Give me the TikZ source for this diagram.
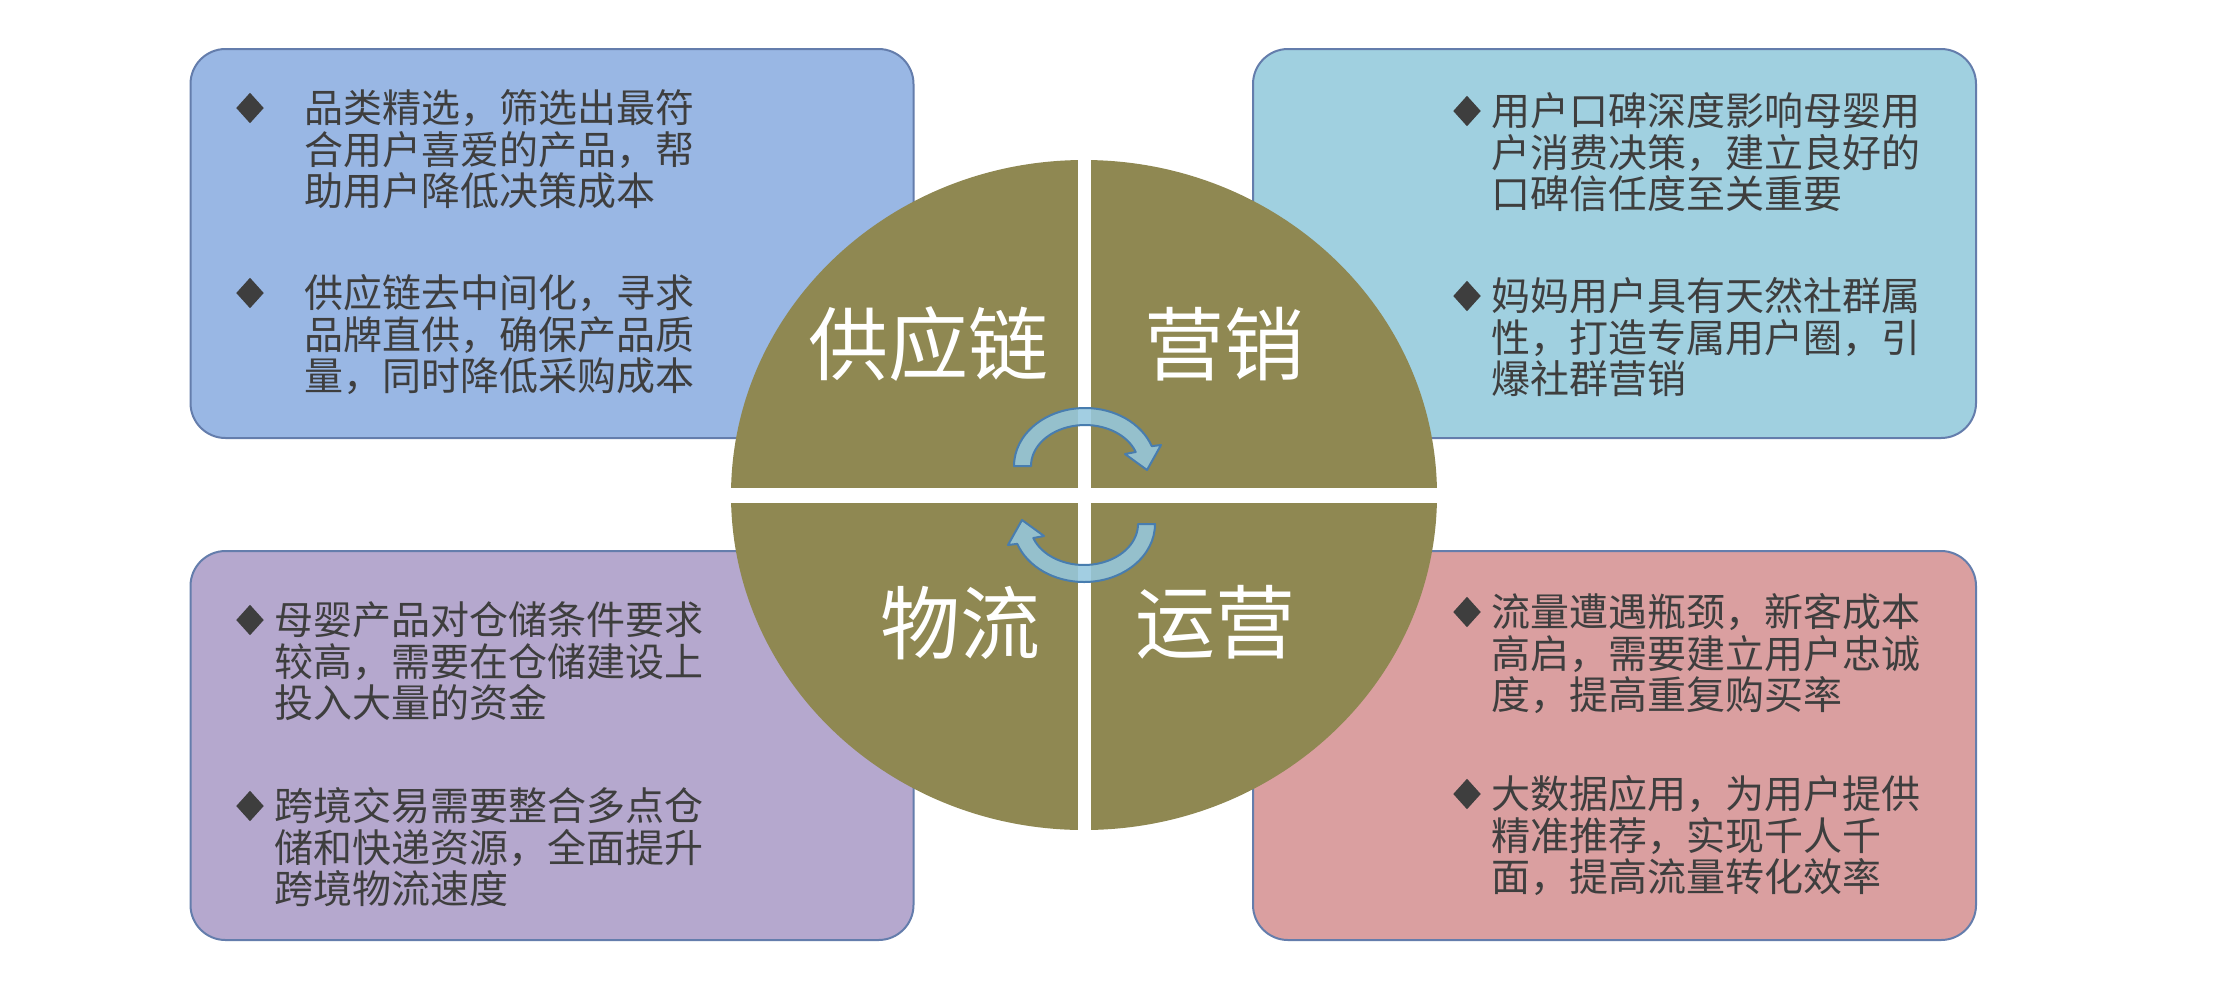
\documentclass[tikz,border=0pt]{standalone}
\usepackage{fontspec}
\usetikzlibrary{shapes.geometric}
\newfontfamily\cjk{Noto Sans CJK SC}
\definecolor{hubc}{RGB}{143,136,82}
\definecolor{tlc}{RGB}{153,183,228}
\definecolor{trc}{RGB}{160,208,224}
\definecolor{blc}{RGB}{181,168,206}
\definecolor{brc}{RGB}{218,159,160}
\definecolor{edgec}{RGB}{100,125,172}
\definecolor{txtc}{RGB}{62,62,62}
\definecolor{arrfill}{RGB}{150,200,222}
\definecolor{arrline}{RGB}{72,125,175}
\tikzset{
  infobox/.style={draw=edgec, line width=0.6pt, rounded corners=10.5pt, inner sep=0pt,
    minimum width=216.9pt, minimum height=116.7pt},
  bullettxt/.style={anchor=north west, inner sep=0pt, align=left, text=txtc,
    font=\cjk\fontsize{11.7pt}{12.45pt}\selectfont},
  bulletmark/.style={diamond, fill=txtc, inner sep=0pt, minimum width=8.4pt, minimum height=9.3pt},
  biglabel/.style={text=white, inner sep=0pt, font=\cjk\fontsize{24pt}{28pt}\selectfont},
  gapbar/.style={fill=white, draw=none},
  cyclearrow/.pic={
    \filldraw[fill=arrfill, fill opacity=0.88, draw=arrline, line width=0.6pt, line join=round]
      (-71,0) arc[start angle=180, end angle=340, x radius=71, y radius=58]
      -- (76,-21) -- (62,4) -- (40,-12) -- (340:54 and 41)
      arc[start angle=340, end angle=180, x radius=54, y radius=41] -- cycle;
  }
}
\begin{document}
\begin{tikzpicture}[x=0.3pt,y=-0.3pt]
\useasboundingbox (0,0) rectangle (2218,986);
\fill[white] (0,0) rectangle (2218,986);

% boxes
\node[infobox, fill=tlc] (tl) at (552,243.5) {};
\node[infobox, fill=trc] (tr) at (1614.5,243.5) {};
\node[infobox, fill=blc] (bl) at (552,745.5) {};
\node[infobox, fill=brc] (br) at (1614.5,745.5) {};

% hub
\node[ellipse, fill=hubc, inner sep=0pt, minimum width=211.8pt, minimum height=201pt] (hub) at (1084,495) {};
\fill[gapbar] (1077.5,150) rectangle (1090.5,840);
\fill[gapbar] (720,487.5) rectangle (1450,502.5);

% quadrant labels
\node[biglabel] (gyl) at (928,344) {供应链};
\node[biglabel] (yx) at (1224,344) {营销};
\node[biglabel] (wl) at (960,623) {物流};
\node[biglabel] (yy) at (1215,622) {运营};

% cycle arrows
\pic at (1085,466) {cyclearrow};
\pic[rotate=180] at (1084,524) {cyclearrow};

% top-left text
\node[bulletmark] (tlb1) at (250,108) {};
\node[bullettxt] (tlt1) at (304,89) {品类精选，筛选出最符\\合用户喜爱的产品，帮\\助用户降低决策成本};
\node[bulletmark] (tlb2) at (250,293) {};
\node[bullettxt] (tlt2) at (304,274) {供应链去中间化，寻求\\品牌直供，确保产品质\\量，同时降低采购成本};

% top-right text
\node[bulletmark] (trb1) at (1467,111) {};
\node[bullettxt] (trt1) at (1491,92) {用户口碑深度影响母婴用\\户消费决策，建立良好的\\口碑信任度至关重要};
\node[bulletmark] (trb2) at (1467,296) {};
\node[bullettxt] (trt2) at (1491,277) {妈妈用户具有天然社群属\\性，打造专属用户圈，引\\爆社群营销};

% bottom-left text
\node[bulletmark] (blb1) at (250,620) {};
\node[bullettxt] (blt1) at (274,601) {母婴产品对仓储条件要求\\较高，需要在仓储建设上\\投入大量的资金};
\node[bulletmark] (blb2) at (250,806) {};
\node[bullettxt] (blt2) at (274,787) {跨境交易需要整合多点仓\\储和快递资源，全面提升\\跨境物流速度};

% bottom-right text
\node[bulletmark] (brb1) at (1467,612) {};
\node[bullettxt] (brt1) at (1491,593) {流量遭遇瓶颈，新客成本\\高启，需要建立用户忠诚\\度，提高重复购买率};
\node[bulletmark] (brb2) at (1467,794) {};
\node[bullettxt] (brt2) at (1491,775) {大数据应用，为用户提供\\精准推荐，实现千人千\\面，提高流量转化效率};
\end{tikzpicture}
\end{document}
